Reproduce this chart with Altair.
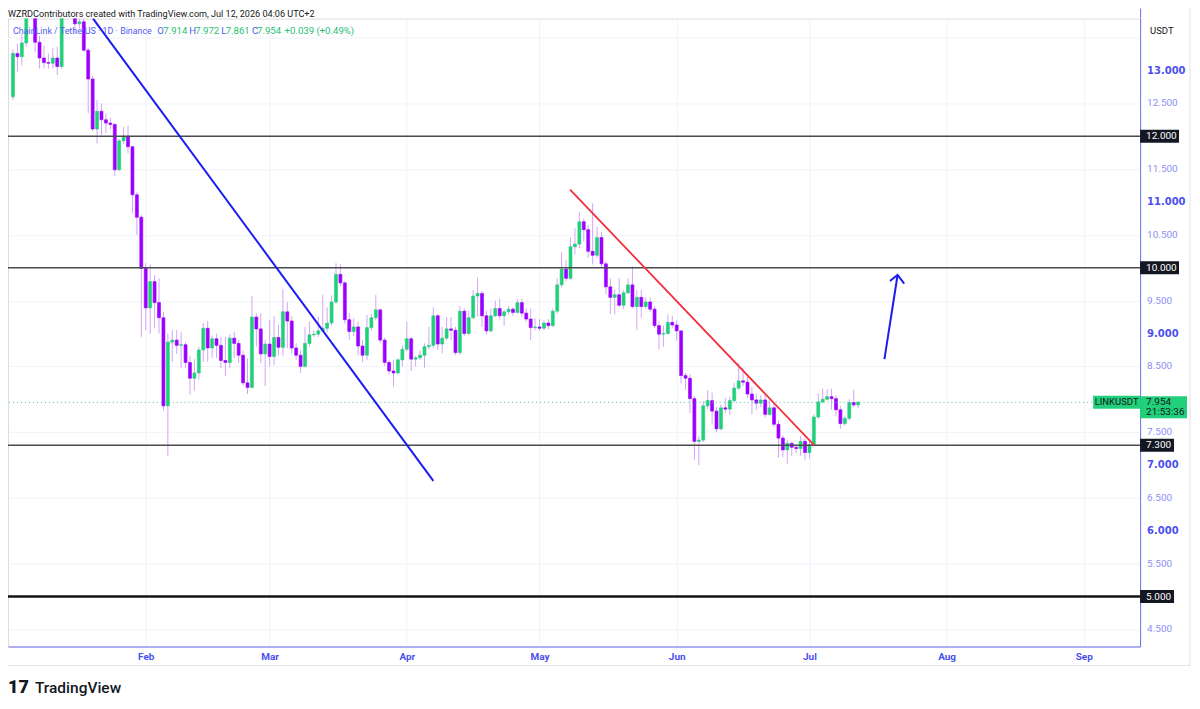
import altair as alt
import pandas as pd
import numpy as np

START = "2026-01-02"

# ---- OHLC (daily, Jan 2 .. Jul 12 2026) ----
jan_o = [12.60,13.26,13.21,13.42,13.88,14.10,13.43,13.19,13.12,13.11,13.19,13.06,13.90,14.20,14.00,13.71,13.74,13.31,12.87,12.11,12.38,12.25,12.20,12.18,11.49,11.93,12.00,11.84,11.11,10.77]
jan_h = [13.32,13.41,13.56,14.00,14.35,14.20,13.53,13.38,13.26,13.34,13.36,14.05,14.40,14.30,14.05,13.79,13.80,13.34,12.92,12.55,12.50,12.35,12.28,12.20,11.96,12.14,12.16,11.86,11.15,10.80]
jan_l = [12.55,12.98,13.08,13.36,13.85,13.28,13.03,13.03,13.03,13.03,12.93,13.03,13.85,13.85,13.56,13.64,13.28,12.35,12.08,11.89,12.02,12.05,12.10,11.39,11.47,11.88,11.74,10.83,10.50,8.95]
jan_c = [13.26,13.21,13.42,13.88,14.10,13.43,13.19,13.12,13.11,13.19,13.06,13.90,14.20,14.00,13.71,13.74,13.31,12.87,12.11,12.38,12.25,12.20,12.18,11.49,11.93,12.00,11.84,11.11,10.77,9.99]

feb_o = [9.99,9.39,9.79,9.47,9.24,7.90,8.87,8.90,8.82,8.83,8.56,8.32,8.40,8.75,9.08,8.78,8.92,8.82,8.59,8.56,8.93,8.85,8.67,8.25,8.18,9.25,9.07,8.69]
feb_h = [10.07,10.05,9.89,9.84,9.33,9.00,9.05,9.05,9.02,8.87,8.66,8.61,8.80,9.16,9.19,8.97,9.00,8.95,8.95,8.99,9.03,8.90,8.74,8.62,9.57,9.31,9.31,8.90]
feb_l = [9.05,9.00,9.08,9.00,7.83,7.14,8.57,8.69,8.47,8.47,8.07,8.13,8.30,8.57,8.57,8.63,8.63,8.47,8.35,8.47,8.63,8.55,8.21,8.08,8.17,8.80,8.55,8.20]
feb_c = [9.39,9.79,9.47,9.24,7.90,8.87,8.90,8.82,8.83,8.56,8.32,8.40,8.75,9.08,8.78,8.92,8.82,8.59,8.56,8.93,8.85,8.67,8.25,8.18,9.25,9.07,8.69,8.84]

mar_o = [8.84,8.65,8.94,8.79,9.33,9.19,8.78,8.67,8.50,8.85,8.98,8.99,9.04,9.08,9.16,9.48,9.90,9.77,9.21,9.03,9.10,8.81,8.67,9.09,9.24,9.36,8.90,8.56,8.43,8.40,8.60]
mar_h = [9.21,9.26,9.13,9.68,9.48,9.26,8.85,8.75,9.10,9.18,9.05,9.26,9.59,9.40,9.58,10.07,10.05,9.80,9.31,9.23,9.18,8.90,9.28,9.30,9.59,9.38,8.94,8.60,8.60,8.62,8.82]
mar_l = [8.50,8.52,8.67,8.66,8.78,8.70,8.60,8.40,8.48,8.80,8.95,8.95,9.02,9.02,9.12,9.45,9.72,9.15,8.90,8.96,8.67,8.57,8.60,9.05,9.20,8.85,8.51,8.38,8.19,8.38,8.50]
mar_c = [8.65,8.94,8.79,9.33,9.19,8.78,8.67,8.50,8.85,8.98,8.99,9.04,9.08,9.16,9.48,9.90,9.77,9.21,9.03,9.10,8.81,8.67,9.09,9.24,9.36,8.90,8.56,8.43,8.40,8.60,8.76]

apr_o = [8.76,8.92,8.61,8.63,8.67,8.80,8.82,9.27,8.84,8.93,9.07,9.05,8.71,9.34,9.00,9.24,9.57,9.61,9.27,9.04,9.27,9.38,9.27,9.33,9.37,9.32,9.47,9.31,9.22,9.09]
apr_h = [9.18,8.95,8.66,8.74,8.85,9.10,9.40,9.30,9.10,9.25,9.25,9.10,9.42,9.38,9.35,9.66,9.85,9.65,9.35,9.38,9.50,9.53,9.36,9.42,9.40,9.52,9.53,9.38,9.38,9.23]
apr_l = [8.73,8.43,8.50,8.60,8.48,8.76,8.78,8.75,8.70,8.90,8.90,8.67,8.68,8.96,8.98,9.22,9.26,9.10,8.98,9.02,9.25,9.22,9.12,9.28,9.27,9.30,9.25,9.18,8.90,9.05]
apr_c = [8.92,8.61,8.63,8.67,8.80,8.82,9.27,8.84,8.93,9.07,9.05,8.71,9.34,9.00,9.24,9.57,9.61,9.27,9.04,9.27,9.38,9.27,9.33,9.37,9.32,9.47,9.31,9.22,9.09,9.10]

may_o = [9.10,9.08,9.16,9.12,9.34,9.74,9.98,9.84,10.32,10.36,10.70,10.58,10.25,10.19,10.46,10.06,9.71,9.55,9.59,9.43,9.62,9.74,9.41,9.55,9.41,9.48,9.37,9.12,8.99,9.00,9.17]
may_h = [9.22,9.20,9.22,9.38,9.84,10.24,10.12,10.46,10.60,10.85,10.75,10.65,10.98,10.62,10.54,10.10,9.84,9.67,9.84,9.66,9.84,10.02,9.66,9.66,9.55,9.55,9.42,9.18,9.12,9.29,9.27]
may_l = [9.04,9.05,9.06,9.10,9.30,9.70,9.80,9.82,10.20,10.30,10.40,10.15,10.05,10.15,10.00,9.60,9.30,9.29,9.40,9.38,9.60,9.38,9.05,9.24,9.38,9.33,9.08,8.76,8.80,8.98,9.08]
may_c = [9.08,9.16,9.12,9.34,9.74,9.98,9.84,10.32,10.36,10.70,10.58,10.25,10.19,10.46,10.06,9.71,9.55,9.59,9.43,9.62,9.74,9.41,9.55,9.41,9.48,9.37,9.12,8.99,9.00,9.17,9.13]

jun_o = [9.13,9.04,8.36,8.32,8.01,7.36,7.38,7.90,7.98,7.82,7.55,7.87,7.85,7.98,8.17,8.28,8.26,8.08,7.99,7.94,7.99,7.77,7.87,7.62,7.41,7.23,7.33,7.27,7.25,7.36]
jun_h = [9.20,9.05,8.40,8.38,8.05,7.44,7.97,8.14,8.10,7.88,7.92,8.02,8.04,8.25,8.55,8.48,8.34,8.19,8.09,8.06,8.08,7.98,7.95,7.68,7.45,7.38,7.35,7.30,7.44,7.40]
jun_l = [8.89,8.24,8.14,7.79,7.08,7.00,7.35,7.85,7.62,7.50,7.53,7.80,7.76,7.95,8.14,8.20,8.02,7.77,7.84,7.88,7.72,7.74,7.58,7.11,7.12,7.02,7.14,7.18,7.14,7.08]
jun_c = [9.04,8.36,8.32,8.01,7.36,7.38,7.90,7.98,7.82,7.55,7.87,7.85,7.98,8.17,8.28,8.26,8.08,7.99,7.94,7.99,7.77,7.87,7.62,7.41,7.23,7.33,7.27,7.25,7.36,7.19]

jul_o = [7.19,7.31,7.73,7.96,8.00,8.04,8.01,7.84,7.63,7.71,7.95,7.914]
jul_h = [7.36,7.77,8.09,8.16,8.15,8.16,8.06,7.90,7.75,8.00,8.14,7.972]
jul_l = [7.10,7.29,7.70,7.94,7.98,7.84,7.74,7.55,7.60,7.68,7.88,7.861]
jul_c = [7.31,7.73,7.96,8.00,8.04,8.01,7.84,7.63,7.71,7.95,7.914,7.954]

# ---- drawings (day index from Jan 2, price) ----
blue_days = [18.1, 95.0]
blue_prices = [13.79, 6.76]
red_days = [125.9, 181.1]
red_prices = [11.19, 7.30]
arrow_shaft_days = [196.95, 199.92]
arrow_shaft_prices = [8.61, 9.89]
arrow_head_days = [198.2, 199.92, 201.42]
arrow_head_prices = [9.80, 9.89, 9.76]

level_prices = [12.0, 10.0, 7.3]
support_price = 5.0
last_price = 7.954

month_starts = ["2026-02-01", "2026-03-01", "2026-04-01", "2026-05-01",
                "2026-06-01", "2026-07-01", "2026-08-01", "2026-09-01"]
month_names = ["Feb", "Mar", "Apr", "May", "Jun", "Jul", "Aug", "Sep"]
y_ticks = [4.5, 5.0, 5.5, 6.0, 6.5, 7.0, 7.5, 8.0, 8.5, 9.0, 9.5, 10.0,
           10.5, 11.0, 11.5, 12.0, 12.5, 13.0, 13.5]
hidden_y_labels = [5.0, 8.0, 10.0, 12.0, 13.5]

# ---- styles ----
GREEN = "#22cf7a"
PURPLE = "#9b00ff"
WICK = "#d3a4f9"
GRID = "#f0f3fa"
AXIS_BLUE = "#6c70f5"
LABEL_BLUE = "#4b50ef"
LABEL_LIGHT = "#8d90f5"
DARK = "#131722"
FONT = "Roboto"

opens = jan_o + feb_o + mar_o + apr_o + may_o + jun_o + jul_o
highs = jan_h + feb_h + mar_h + apr_h + may_h + jun_h + jul_h
lows = jan_l + feb_l + mar_l + apr_l + may_l + jun_l + jul_l
closes = jan_c + feb_c + mar_c + apr_c + may_c + jun_c + jul_c

day0 = pd.Timestamp(START)
dates = pd.date_range(START, periods=len(opens), freq="D")
df = pd.DataFrame({"d": (dates - day0).days, "o": opens, "h": highs,
                   "l": lows, "c": closes})
df["col"] = np.where(df["c"] >= df["o"], GREEN, PURPLE)

month_days = [int((pd.Timestamp(m) - day0).days) for m in month_starts]
x_label_expr = ""
for md, mn in zip(month_days, month_names):
    x_label_expr += f"datum.value=={md}?'{mn}':"
x_label_expr += "''"

XS = alt.Scale(domain=[0, 253.6], nice=False, zero=False)
YS = alt.Scale(domain=[4.24, 13.79], nice=False, zero=False)

x_axis = alt.Axis(values=month_days, labelExpr=x_label_expr, grid=True,
                  gridColor=GRID, gridWidth=1, domainColor=AXIS_BLUE,
                  domainWidth=1, ticks=False, labelColor=LABEL_BLUE,
                  labelFontWeight="bold", labelFontSize=10, labelFont=FONT,
                  labelPadding=5, labelOverlap=False, title=None,
                  orient="bottom")
y_axis = alt.Axis(orient="right", values=y_ticks, labels=False,
                  grid=True, gridColor=GRID, gridWidth=1, domainColor=AXIS_BLUE,
                  domainWidth=1, ticks=False, title=None)

base = alt.Chart(df)
wicks = base.mark_rule(color=WICK, strokeWidth=1, clip=True).encode(
    x=alt.X("d:Q", scale=XS, axis=x_axis),
    y=alt.Y("l:Q", scale=YS, axis=y_axis),
    y2="h:Q",
)
bodies = base.mark_bar(width=3, clip=True, strokeWidth=0.6).encode(
    x=alt.X("d:Q"),
    y=alt.Y("o:Q"),
    y2="c:Q",
    fill=alt.Fill("col:N", scale=None),
    stroke=alt.Stroke("col:N", scale=None),
)

levels = alt.Chart(pd.DataFrame({"p": level_prices})).mark_rule(
    color="#4a4a4f", strokeWidth=1.4).encode(y="p:Q")
support = alt.Chart(pd.DataFrame({"p": [support_price]})).mark_rule(
    color="#131313", strokeWidth=2.4).encode(y="p:Q")
last_line = alt.Chart(pd.DataFrame({"p": [last_price]})).mark_rule(
    color="#3cc98a", strokeWidth=1, strokeDash=[1, 3]).encode(y="p:Q")

blue_line = alt.Chart(pd.DataFrame({"d": blue_days, "p": blue_prices})).mark_line(
    color="#1c1cf0", strokeWidth=2, clip=True).encode(x="d:Q", y="p:Q")
red_line = alt.Chart(pd.DataFrame({"d": red_days, "p": red_prices})).mark_line(
    color="#f2303c", strokeWidth=1.8, clip=True).encode(x="d:Q", y="p:Q")
arrow_shaft = alt.Chart(pd.DataFrame({"d": arrow_shaft_days, "p": arrow_shaft_prices})).mark_line(
    color="#1c1cf0", strokeWidth=2).encode(x="d:Q", y="p:Q")
arrow_head = alt.Chart(pd.DataFrame({"d": arrow_head_days, "p": arrow_head_prices})).mark_line(
    color="#1c1cf0", strokeWidth=2, strokeJoin="miter").encode(x="d:Q", y="p:Q")

one = pd.DataFrame({"a": [0]})
W = 1134
H = 629

# y-axis price labels (integers bold, halves light)
ylab = pd.DataFrame({"p": [t for t in y_ticks if t not in hidden_y_labels]})
ylab["t"] = [f"{v:.3f}" for v in ylab["p"]]
ylab["whole"] = [float(v).is_integer() for v in ylab["p"]]
ylab_int = alt.Chart(ylab[ylab["whole"]]).mark_text(
    align="left", baseline="middle", fontSize=10, fontWeight="bold",
    font="DejaVu Sans", color=LABEL_BLUE).encode(x=alt.value(W + 7), y="p:Q", text="t:N")
ylab_half = alt.Chart(ylab[~ylab["whole"]]).mark_text(
    align="left", baseline="middle", fontSize=10, font=FONT,
    color=LABEL_LIGHT).encode(x=alt.value(W + 7), y="p:Q", text="t:N")

layers = [wicks, bodies, levels, support, last_line, blue_line, red_line,
          arrow_shaft, arrow_head, ylab_int, ylab_half]

# price boxes on the right axis
for lvl, bw in [(12.0, 39), (10.0, 39), (7.3, 34), (5.0, 34)]:
    layers.append(alt.Chart(one).mark_rule(color=DARK, strokeWidth=13, strokeCap="butt").encode(
        x=alt.value(W), x2=alt.value(W + bw), y=alt.datum(lvl)))
    layers.append(alt.Chart(one).mark_text(text=f"{lvl:.3f}", color="white", align="left",
                                           baseline="middle", fontSize=10, font=FONT).encode(
        x=alt.value(W + 6), y=alt.datum(lvl)))

# last price labels
layers.append(alt.Chart(one).mark_rule(color=GREEN, strokeWidth=13, strokeCap="butt").encode(
    x=alt.value(W - 47), x2=alt.value(W), y=alt.datum(last_price)))
layers.append(alt.Chart(one).mark_text(text="LINKUSDT", color=DARK, align="center",
                                       baseline="middle", fontSize=9.5, font=FONT).encode(
    x=alt.value(W - 23.5), y=alt.datum(last_price)))
layers.append(alt.Chart(one).mark_rule(color=GREEN, strokeWidth=22, strokeCap="butt", yOffset=5).encode(
    x=alt.value(W), x2=alt.value(W + 47), y=alt.datum(last_price)))
layers.append(alt.Chart(one).mark_text(text="7.954", color=DARK, align="left",
                                       baseline="middle", fontSize=10, font=FONT).encode(
    x=alt.value(W + 6), y=alt.datum(last_price)))
layers.append(alt.Chart(one).mark_text(text="21:53:36", color=DARK, align="left",
                                       baseline="middle", fontSize=10, font=FONT, dy=10).encode(
    x=alt.value(W + 6), y=alt.datum(last_price)))

# frame pieces
layers.append(alt.Chart(one).mark_rule(color=AXIS_BLUE, strokeWidth=1).encode(
    x=alt.value(W + 0.5), y=alt.value(-10), y2=alt.value(0)))
layers.append(alt.Chart(one).mark_rule(color="#e0e3eb", strokeWidth=1).encode(
    x=alt.value(0), x2=alt.value(1184), y=alt.value(H + 19)))
layers.append(alt.Chart(one).mark_rule(color="#e0e3eb", strokeWidth=1).encode(
    x=alt.value(1184), y=alt.value(-10), y2=alt.value(H + 19)))

# texts
def txt(s, x, y, color=DARK, size=9.5, weight="normal", align="left"):
    return alt.Chart(one).mark_text(text=s, color=color, align=align, baseline="middle",
                                    fontSize=size, fontWeight=weight, font=FONT).encode(
        x=alt.value(x), y=alt.value(y))

layers.append(txt("WZRDContributors created with TradingView.com, Jul 12, 2026 04:06 UTC+2", 0, -5, size=9.1))
layers.append(txt("ChainLink / TetherUS · 1D · Binance", 5, 12, color="#4f5cf2", size=8.9))
for letter, lx, val, vx in [("O", 149.5, "7.914", 155.5), ("H", 181.5, "7.972", 187.5),
                            ("L", 213.5, "7.861", 218), ("C", 244.5, "7.954", 249.5)]:
    layers.append(txt(letter, lx, 12, color="#4f5cf2", size=9.6))
    layers.append(txt(val, vx, 12, color="#1fbf73", size=9.6))
layers.append(txt("+0.039 (+0.49%)", 277, 12, color="#1fbf73", size=9.6))
layers.append(txt("USDT", W + 10, 12, color=DARK, size=9.5))
layers.append(txt("17", 0, H + 42, color=DARK, size=18, weight=900))
layers.append(txt("TradingView", 27, H + 42, color=DARK, size=15.5, weight=500))

chart = alt.layer(*layers).properties(
    width=W, height=H,
    padding={"left": 0, "top": 10, "right": 52, "bottom": 54},
    autosize=alt.AutoSizeParams(type="none"),
    background="white",
).configure_view(stroke=None).configure(font=FONT)

chart.save("out.html", embed_options={"renderer": "svg", "actions": False})
